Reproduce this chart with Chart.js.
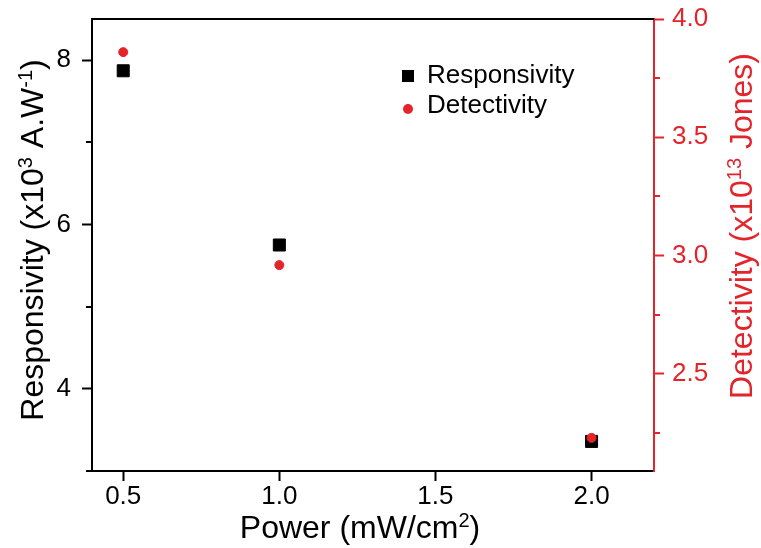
<!DOCTYPE html>
<html>
<head>
<meta charset="utf-8">
<script src="https://cdn.jsdelivr.net/npm/chart.js@4/dist/chart.umd.min.js"></script>
<style>
  html, body { margin: 0; padding: 0; background: #ffffff; }
  canvas { display: block; }
</style>
</head>
<body>
<canvas id="c" width="761" height="548"></canvas>
<script>
// ---- data ----
const power = [0.5, 1.0, 2.0];
const responsivity = [7.87, 5.75, 3.36];
const detectivity = [3.86, 2.96, 2.23];

// ---- tick labels ----
const xTickValues = [0.5, 1.0, 1.5, 2.0];
const respMajorTicks = [4, 6, 8];
const respMinorTicks = [3, 5, 7];
const detMajorTicks = [2.5, 3.0, 3.5, 4.0];
const detMinorTicks = [2.25, 2.75, 3.25, 3.75];

// ---- texts ----
const seriesLabels = ['Responsivity', 'Detectivity'];
// [text, isSuperscript]
const xTitle = [['Power (mW/cm', 0], ['2', 1], [')', 0]];
const yTitle = [['Responsivity (x10', 0], ['3', 1], [' A.W', 0], ['-1', 1], [')', 0]];
const y1Title = [['Detectivity (x10', 0], ['13', 1], [' Jones)', 0]];

const RED = '#e3242b';
const BLACK = '#000000';
const FONT = "'Liberation Sans', Arial, Helvetica, sans-serif";
Chart.defaults.font.family = FONT;

function drawRich(ctx, segs, cx, cy, rot, size, color) {
  ctx.save();
  ctx.translate(cx, cy);
  ctx.rotate(rot);
  ctx.fillStyle = color;
  ctx.textAlign = 'left';
  ctx.textBaseline = 'alphabetic';
  const supSize = Math.round(size * 0.62);
  let w = 0;
  segs.forEach(([t, s]) => { ctx.font = (s ? supSize : size) + 'px ' + FONT; w += ctx.measureText(t).width; });
  let x = -w / 2;
  const base = size * 0.36;
  segs.forEach(([t, s]) => {
    ctx.font = (s ? supSize : size) + 'px ' + FONT;
    ctx.fillText(t, x, s ? base - size * 0.34 : base);
    x += ctx.measureText(t).width;
  });
  ctx.restore();
}

function zeroPad(s) {
  s.paddingTop = 0; s.paddingBottom = 0; s.paddingLeft = 0; s.paddingRight = 0;
}

const decorPlugin = {
  id: 'decor',
  afterDraw(chart) {
    const ctx = chart.ctx;
    const a = chart.chartArea;
    // top frame line
    ctx.save();
    ctx.strokeStyle = BLACK;
    ctx.lineWidth = 2;
    ctx.beginPath();
    ctx.moveTo(a.left, a.top);
    ctx.lineTo(a.right, a.top);
    ctx.stroke();
    // minor ticks
    const yS = chart.scales.y, y1S = chart.scales.y1;
    ctx.strokeStyle = BLACK;
    respMinorTicks.forEach(v => {
      const p = Math.round(yS.getPixelForValue(v));
      ctx.beginPath(); ctx.moveTo(a.left, p); ctx.lineTo(a.left - 6, p); ctx.stroke();
    });
    ctx.strokeStyle = RED;
    detMinorTicks.forEach(v => {
      const p = Math.round(y1S.getPixelForValue(v));
      ctx.beginPath(); ctx.moveTo(a.right, p); ctx.lineTo(a.right + 6, p); ctx.stroke();
    });
    ctx.restore();

    // axis titles
    drawRich(ctx, xTitle, 360, 526, 0, 32, BLACK);
    drawRich(ctx, yTitle, 31, 240, -Math.PI / 2, 32, BLACK);
    drawRich(ctx, y1Title, 740, 226, -Math.PI / 2, 32, RED);

    // legend
    const lx = a.left + 316, ly = a.top + 57, gap = 30;
    chart.data.datasets.forEach((ds, i) => {
      const y = ly + i * gap;
      ctx.save();
      ctx.fillStyle = ds.backgroundColor;
      if (ds.pointStyle === 'rect') {
        ctx.fillRect(lx - 6, y - 6, 12, 12);
      } else {
        ctx.beginPath(); ctx.arc(lx, y + 3, 5, 0, Math.PI * 2); ctx.fill();
      }
      ctx.fillStyle = BLACK;
      ctx.font = '26px ' + FONT;
      ctx.textAlign = 'left';
      ctx.textBaseline = 'middle';
      ctx.fillText(ds.label, lx + 19, y);
      ctx.restore();
    });
  }
};

const chart = new Chart(document.getElementById('c'), {
  type: 'scatter',
  data: {
    datasets: [
      {
        label: seriesLabels[0],
        data: power.map((x, i) => ({ x, y: responsivity[i] })),
        yAxisID: 'y',
        pointStyle: 'rect',
        pointRadius: 8.5,
        pointBorderWidth: 1,
        backgroundColor: BLACK,
        borderColor: BLACK,
        order: 2
      },
      {
        label: seriesLabels[1],
        data: power.map((x, i) => ({ x, y: detectivity[i] })),
        yAxisID: 'y1',
        pointStyle: 'circle',
        pointRadius: 4.5,
        pointBorderWidth: 1,
        backgroundColor: RED,
        borderColor: RED,
        order: 1
      }
    ]
  },
  options: {
    responsive: false,
    animation: false,
    events: [],
    layout: { padding: { top: 19, left: 0, right: 0, bottom: 0 } },
    plugins: { legend: { display: false }, tooltip: { enabled: false } },
    scales: {
      x: {
        type: 'linear',
        min: 0.4,
        max: 2.2,
        afterBuildTicks: s => { s.ticks = xTickValues.map(v => ({ value: v })); },
        afterFit: s => { s.height = 77; zeroPad(s); },
        ticks: {
          color: BLACK,
          font: { size: 26 },
          padding: 0,
          maxRotation: 0,
          autoSkip: false,
          callback: v => Number(v).toFixed(1)
        },
        grid: { drawOnChartArea: false, tickLength: 10, tickWidth: 2, tickColor: BLACK },
        border: { color: BLACK, width: 2 }
      },
      y: {
        type: 'linear',
        position: 'left',
        min: 3,
        max: 8.5,
        afterBuildTicks: s => { s.ticks = respMajorTicks.map(v => ({ value: v })); },
        afterFit: s => { s.width = 92; zeroPad(s); },
        ticks: {
          color: BLACK,
          font: { size: 26 },
          padding: 11,
          autoSkip: false,
          callback: v => String(v)
        },
        grid: { drawOnChartArea: false, tickLength: 10, tickWidth: 2, tickColor: BLACK },
        border: { color: BLACK, width: 2 }
      },
      y1: {
        type: 'linear',
        position: 'right',
        min: 2.09,
        max: 4.0,
        afterBuildTicks: s => { s.ticks = detMajorTicks.map(v => ({ value: v })); },
        afterFit: s => { s.width = 107; zeroPad(s); },
        ticks: {
          color: RED,
          font: { size: 26 },
          padding: 8,
          autoSkip: false,
          callback: v => Number(v).toFixed(1)
        },
        grid: { drawOnChartArea: false, tickLength: 10, tickWidth: 2, tickColor: RED },
        border: { color: RED, width: 2 }
      }
    }
  },
  plugins: [decorPlugin]
});
</script>
</body>
</html>
